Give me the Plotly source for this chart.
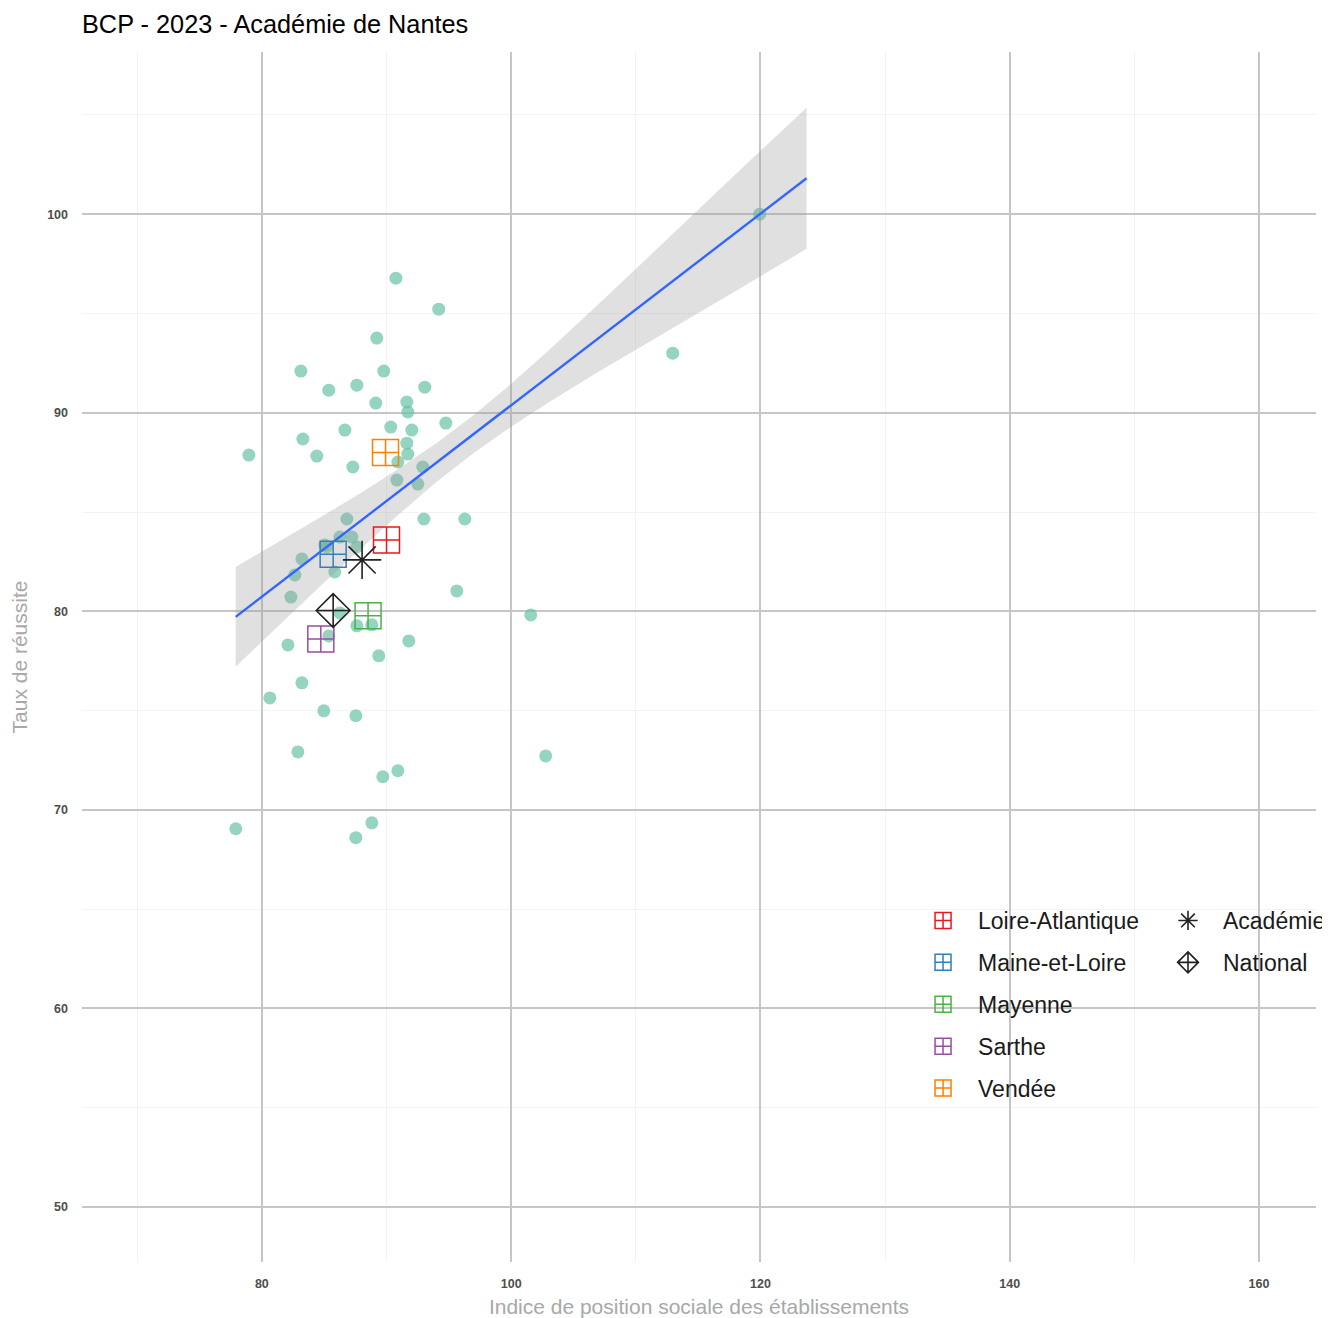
import plotly.graph_objects as go

# établissements : IPS (x) et taux de réussite (y)
ips = [78.96, 77.91, 83.13, 85.37, 87.62, 89.22, 90.75, 94.19, 89.78, 89.14,
       91.63, 93.07, 91.71, 83.29, 84.41, 86.66, 90.34, 92.03, 94.76, 91.63,
       91.71, 87.30, 90.91, 90.83, 92.91, 92.51, 86.82, 93.00, 96.28, 86.26,
       87.22, 85.05, 83.21, 82.65, 85.85, 82.33, 95.64, 101.57, 87.62, 88.82,
       85.37, 91.79, 82.09, 89.38, 83.21, 80.64, 84.97, 87.54, 82.89, 102.77,
       90.91, 89.70, 88.82, 87.54, 112.96, 119.94, 85.21, 87.62, 86.26]
taux = [87.87, 69.05, 92.10, 91.14, 91.39, 93.76, 96.78, 95.22, 92.10, 90.49,
        90.54, 91.29, 90.04, 88.68, 87.82, 89.13, 89.28, 89.13, 89.48, 88.47,
        87.92, 87.27, 87.52, 86.61, 87.27, 86.41, 84.65, 84.65, 84.65, 83.74,
        83.74, 83.34, 82.64, 81.83, 81.98, 80.72, 81.03, 79.82, 79.27, 79.32,
        78.76, 78.51, 78.31, 77.76, 76.40, 75.64, 74.99, 74.74, 72.92, 72.72,
        71.97, 71.67, 69.35, 68.60, 93.00, 100.00, 83.24, 83.24, 79.92]

# droite de régression et intervalle de confiance
fit_x = [77.9, 123.7]
fit_y = [79.72, 101.81]
band_x = [77.9, 81.0, 85.0, 88.0, 91.0, 94.0, 97.0, 100.0, 103.0, 107.0,
          111.0, 115.0, 119.0, 123.7]
band_hi = [82.23, 83.37, 84.85, 85.99, 87.19, 88.47, 89.89, 91.46, 93.14, 95.46,
           97.84, 100.24, 102.60, 105.36]
band_lo = [77.21, 79.07, 81.45, 83.19, 84.89, 86.51, 87.97, 89.30, 90.52, 92.06,
           93.54, 95.00, 96.50, 98.26]

# départements
departements = ["Loire-Atlantique", "Maine-et-Loire", "Mayenne", "Sarthe", "Vendée"]
dep_ips = [90.00, 85.72, 88.52, 84.73, 89.92]
dep_taux = [83.59, 82.87, 79.78, 78.61, 88.00]
dep_colors = ["#E41A1C", "#377EB8", "#4DAF4A", "#984EA3", "#FF7F00"]

# références
ref_noms = ["Académie", "National"]
ref_ips = [88.04, 85.72]
ref_taux = [82.59, 80.04]
ref_symbols = ["asterisk-open", "diamond-cross-open"]
ref_sizes = [32, 26]

fig = go.Figure()

fig.add_trace(go.Scatter(
    x=ips, y=taux, mode="markers", showlegend=False, hoverinfo="skip",
    marker=dict(size=13, color="rgba(102,194,165,0.7)", line=dict(width=0))
))
fig.add_trace(go.Scatter(
    x=band_x + band_x[::-1], y=band_hi + band_lo[::-1], fill="toself",
    fillcolor="rgba(153,153,153,0.3)", line=dict(width=0), mode="lines",
    showlegend=False, hoverinfo="skip"
))
fig.add_trace(go.Scatter(
    x=fit_x, y=fit_y, mode="lines", showlegend=False,
    line=dict(color="#3366FF", width=2.4)
))

for nom, x, y, c in zip(departements, dep_ips, dep_taux, dep_colors):
    fig.add_trace(go.Scatter(
        x=[x], y=[y], mode="markers", name=nom, legendgroup=nom,
        marker=dict(symbol="square-cross-open", size=26, color=c,
                    line=dict(color=c, width=1.5))
    ))

for nom, x, y, s, sz in zip(ref_noms, ref_ips, ref_taux, ref_symbols, ref_sizes):
    fig.add_trace(go.Scatter(
        x=[x], y=[y], mode="markers", name=nom, legendgroup=nom,
        legend="legend2",
        marker=dict(symbol=s, size=sz, color="#222222",
                    line=dict(color="#222222", width=1.6))
    ))

grid_major = "#c6c6c6"
grid_minor = "#f3f3f3"
tick_font = dict(family="Liberation Sans, Arial", size=12.5, color="#4d4d4d",
                 weight="bold")
title_font = dict(family="Liberation Sans, Arial", size=21, color="#a8a8a8")
legend_font = dict(family="Liberation Sans, Arial", size=23, color="#1a1a1a")

# la page html ajoute 8 px de marge autour de la figure
fig.update_layout(
    width=1322, height=1310,
    margin=dict(l=74, r=14, t=44, b=56, autoexpand=False),
    paper_bgcolor="white", plot_bgcolor="white",
    title=dict(text="BCP - 2023 - Académie de Nantes", x=74 / 1322,
               xanchor="left", y=1 - 16 / 1310, yanchor="middle",
               font=dict(family="Liberation Sans, Arial", size=25.3, color="black")),
    xaxis=dict(range=[65.57, 164.57], tick0=0, dtick=20, showline=False,
               zeroline=False, gridcolor=grid_major, gridwidth=2.2,
               tickfont=tick_font, ticklabelstandoff=12, automargin=False,
               minor=dict(dtick=10, showgrid=True, gridcolor=grid_minor, gridwidth=1),
               title=dict(text="Indice de position sociale des établissements",
                          font=title_font, standoff=13)),
    yaxis=dict(range=[47.23, 108.17], tick0=0, dtick=10, showline=False,
               zeroline=False, gridcolor=grid_major, gridwidth=2.2,
               tickfont=tick_font, ticklabelstandoff=13, automargin=False,
               minor=dict(dtick=5, showgrid=True, gridcolor=grid_minor, gridwidth=1),
               title=dict(text="Taux de réussite", font=title_font, standoff=14)),
    legend=dict(x=0.6694, y=0.30, xanchor="left", yanchor="top", itemwidth=60,
                traceorder="grouped", tracegroupgap=9, bgcolor="rgba(0,0,0,0)",
                font=legend_font),
    legend2=dict(x=0.8679, y=0.30, xanchor="left", yanchor="top", itemwidth=60,
                 traceorder="grouped", tracegroupgap=9, bgcolor="rgba(0,0,0,0)",
                 font=legend_font),
)

fig.write_html("out.html")
